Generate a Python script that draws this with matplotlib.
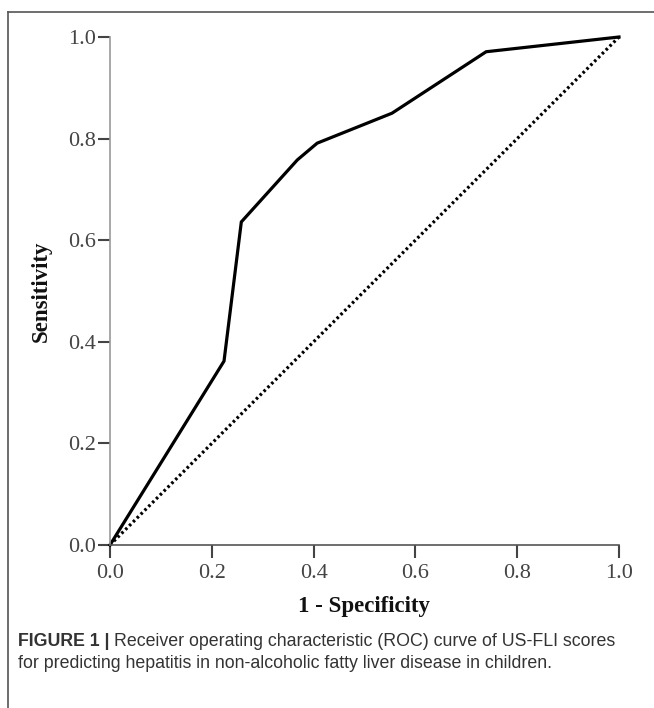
import matplotlib
matplotlib.use("Agg")
import matplotlib.pyplot as plt
from matplotlib.lines import Line2D

# ROC curve points
fpr = [0.0, 0.224, 0.258, 0.368, 0.407, 0.554, 0.739, 1.0]
tpr = [0.0, 0.362, 0.636, 0.758, 0.791, 0.850, 0.971, 1.0]
ref_x = [0.0, 1.0]
ref_y = [0.0, 1.0]
ticks = [0.0, 0.2, 0.4, 0.6, 0.8, 1.0]
tick_labels = ["0.0", "0.2", "0.4", "0.6", "0.8", "1.0"]

fig = plt.figure(figsize=(6.54, 7.08), dpi=100)
ax = fig.add_axes([110 / 654, 1 - 545 / 708, 509 / 654, 508 / 708])

ax.plot(fpr, tpr, color="black", lw=2.3, solid_joinstyle="miter", clip_on=False)
ax.plot(ref_x, ref_y, color="black", lw=2.3, ls=(0, (0.8, 0.9)), clip_on=False)

ax.set_xlim(0, 1)
ax.set_ylim(0, 1)
ax.set_xticks(ticks)
ax.set_xticklabels(tick_labels)
ax.set_yticks(ticks)
ax.set_yticklabels(tick_labels)
for s in ("top", "right"):
    ax.spines[s].set_visible(False)
ax.spines["left"].set_color("#999999")
ax.spines["bottom"].set_color("#555555")
ax.spines["left"].set_linewidth(1.2)
ax.spines["bottom"].set_linewidth(1.2)
ax.tick_params(axis="x", direction="out", length=9, width=1.5, color="#444444",
               pad=5, labelsize=16, labelcolor="#444444")
ax.tick_params(axis="y", direction="out", length=9, width=1.5, color="#444444",
               pad=1, labelsize=16, labelcolor="#444444")
for lab in ax.get_xticklabels() + ax.get_yticklabels():
    lab.set_family("Liberation Serif")

ax.set_xlabel("1 - Specificity", family="Liberation Serif", fontweight="bold",
              fontsize=16.5, color="#111111", labelpad=9)
ax.set_ylabel("Sensitivity", family="Liberation Serif", fontweight="bold",
              fontsize=16.5, color="#111111", labelpad=12)

# outer frame (top and left)
fig.add_artist(Line2D([8 / 654, 1.0], [1 - 12 / 708, 1 - 12 / 708],
                      transform=fig.transFigure, color="#555555", lw=1.2))
fig.add_artist(Line2D([8 / 654, 8 / 654], [1 - 12 / 708, 0.0],
                      transform=fig.transFigure, color="#555555", lw=1.2))

# caption
cap_x = 18 / 654
t = fig.text(cap_x, 1 - 642 / 708, "FIGURE 1 |", family="Liberation Sans",
             fontweight="bold", fontsize=12.8, color="#333333", va="center")
fig.canvas.draw()
bb = t.get_window_extent()
fig.text(bb.x1 / fig.bbox.width + 4 / 654, 1 - 642 / 708,
         "Receiver operating characteristic (ROC) curve of US-FLI scores",
         family="Liberation Sans", fontsize=12.8, color="#333333", va="center")
fig.text(cap_x, 1 - 664 / 708,
         "for predicting hepatitis in non-alcoholic fatty liver disease in children.",
         family="Liberation Sans", fontsize=12.8, color="#333333", va="center")

fig.savefig("out.png", dpi=100)
